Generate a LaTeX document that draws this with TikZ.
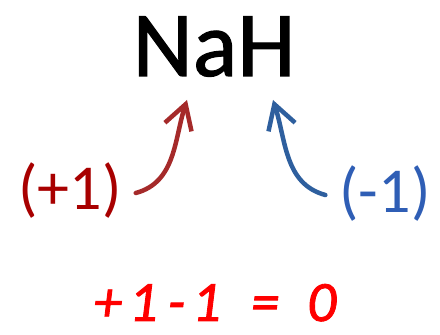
\documentclass[tikz,border=0pt]{standalone}
\usepackage{fontspec}
\setmainfont{Carlito}
\newfontfamily\handfont[LetterSpace=12,FakeBold=1.5]{Carlito}
\usepackage{tikz}
\usetikzlibrary{arrows.meta,positioning,calc}
\definecolor{oxred}{HTML}{A80000}
\definecolor{oxblue}{HTML}{2F5EB5}
\definecolor{arrred}{HTML}{A52A2A}
\definecolor{arrblue}{HTML}{2E5F9E}
\definecolor{sumred}{HTML}{FF0000}

\begin{document}
\begin{tikzpicture}[
  x=1pt,y=1pt,
  formula/.style={inner sep=0pt,font=\fontsize{93}{93}\selectfont},
  oxnum/.style={inner sep=0pt,font=\fontsize{64}{64}\selectfont},
  total/.style={inner sep=0pt,font=\handfont\itshape\fontsize{57}{57}\selectfont,text=sumred},
  arrow/.style={-{Straight Barb[length=24pt,width=28pt,line width=4.5pt]},line width=4.5pt,line cap=round}
]
\useasboundingbox (0,0) rectangle (440,335);

\node[formula,anchor=base] (nah) at (214,259) {\addfontfeature{FakeBold=1.2}NaH};
\node[oxnum,text=oxred] (plus) at (70,144) {(+1)};
\node[oxnum,text=oxblue] (minus) at (385,141) {(-1)};
\node[total,anchor=base] (sum) at (215,14) {+1\hspace{10pt}-1\hspace{30pt}=\hspace{28pt}0};

\coordinate (natip) at (187,235);
\coordinate (htip) at (273,235);

\draw[arrow,arrred] ([xshift=14pt,yshift=-2pt]plus.east) to[out=15,in=-108] (natip);
\draw[arrow,arrblue] ([xshift=-14pt,yshift=-1pt]minus.west) to[out=165,in=-72] (htip);
\end{tikzpicture}
\end{document}
